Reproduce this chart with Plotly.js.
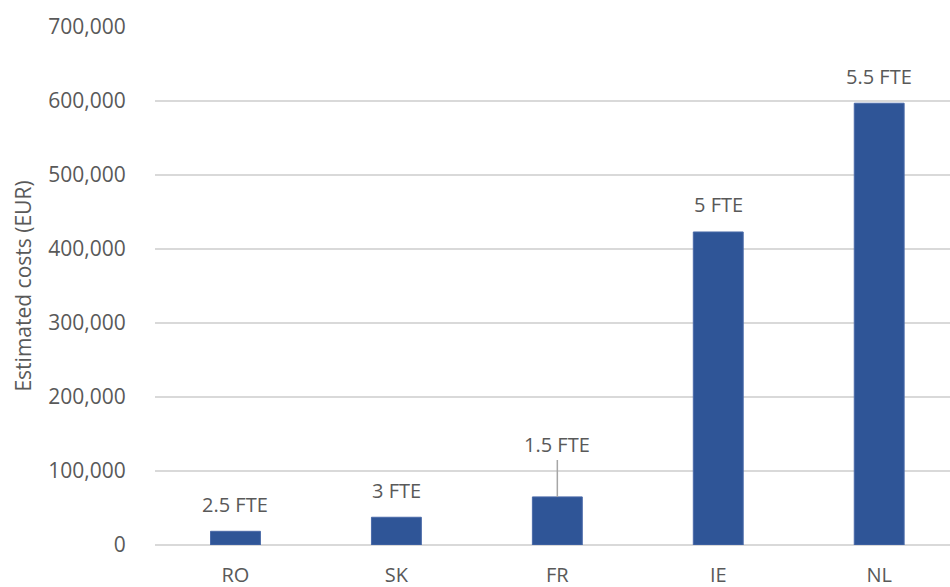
<!DOCTYPE html>
<html>
<head>
<meta charset="utf-8">
<script src="https://cdn.plot.ly/plotly-3.0.1.min.js"></script>
<style>html,body{margin:0;padding:0;background:#fff;}#chart{width:950px;height:587px;}</style>
</head>
<body>
<div id="chart"></div>
<script>
const categories = ["RO", "SK", "FR", "IE", "NL"];
const costs = [18500, 37500, 65000, 423000, 597000];
const fteLabels = ["2.5 FTE", "3 FTE", "1.5 FTE", "5 FTE", "5.5 FTE"];
const yTickVals = [0, 100000, 200000, 300000, 400000, 500000, 600000, 700000];
const yTickText = ["0", "100,000", "200,000", "300,000", "400,000", "500,000", "600,000", "700,000"];

const txtColor = "#595959";
const fontFam = "Open Sans, sans-serif";

const annotations = categories.map((c, i) => {
  if (c === "FR") {
    return {
      x: c, y: costs[i], xref: "x", yref: "y", text: fteLabels[i],
      showarrow: true, arrowhead: 0, arrowwidth: 1.5, arrowcolor: "#a6a6a6",
      ax: 0, ay: -52, standoff: 0,
      font: {family: fontFam, size: 20, color: txtColor}
    };
  }
  return {
    x: c, y: costs[i], xref: "x", yref: "y", text: fteLabels[i],
    showarrow: false, yanchor: "middle", yshift: 27,
    font: {family: fontFam, size: 20, color: txtColor}
  };
});

const trace = {
  type: "bar",
  x: categories,
  y: costs,
  width: 0.31,
  marker: {color: "#2F5597", line: {color: "#4a6aa8", width: 1}},
  hoverinfo: "none"
};

const layout = {
  width: 950, height: 587,
  margin: {l: 155, r: 0, t: 27, b: 42},
  paper_bgcolor: "#fff", plot_bgcolor: "#fff",
  showlegend: false,
  font: {family: fontFam, color: txtColor, size: 20},
  xaxis: {
    type: "category",
    range: [-0.5, 4.44],
    showgrid: false, zeroline: false, showline: false,
    ticks: "outside", ticklen: 12, tickcolor: "rgba(0,0,0,0)",
    tickfont: {family: fontFam, size: 20, color: txtColor},
    fixedrange: true
  },
  yaxis: {
    range: [0, 700000],
    tickvals: yTickVals, ticktext: yTickText,
    showgrid: true, gridcolor: "#d9d9d9", gridwidth: 1.6,
    zeroline: true, zerolinecolor: "#d9d9d9", zerolinewidth: 1.6,
    showline: false,
    ticks: "outside", ticklen: 24, tickcolor: "rgba(0,0,0,0)",
    tickfont: {family: fontFam, size: 21, color: txtColor},
    title: {text: "Estimated costs (EUR)", font: {family: fontFam, size: 21, color: txtColor}, standoff: 10},
    automargin: false,
    fixedrange: true
  },
  annotations: annotations
};

Plotly.newPlot("chart", [trace], layout, {displayModeBar: false, staticPlot: true});
</script>
</body>
</html>
